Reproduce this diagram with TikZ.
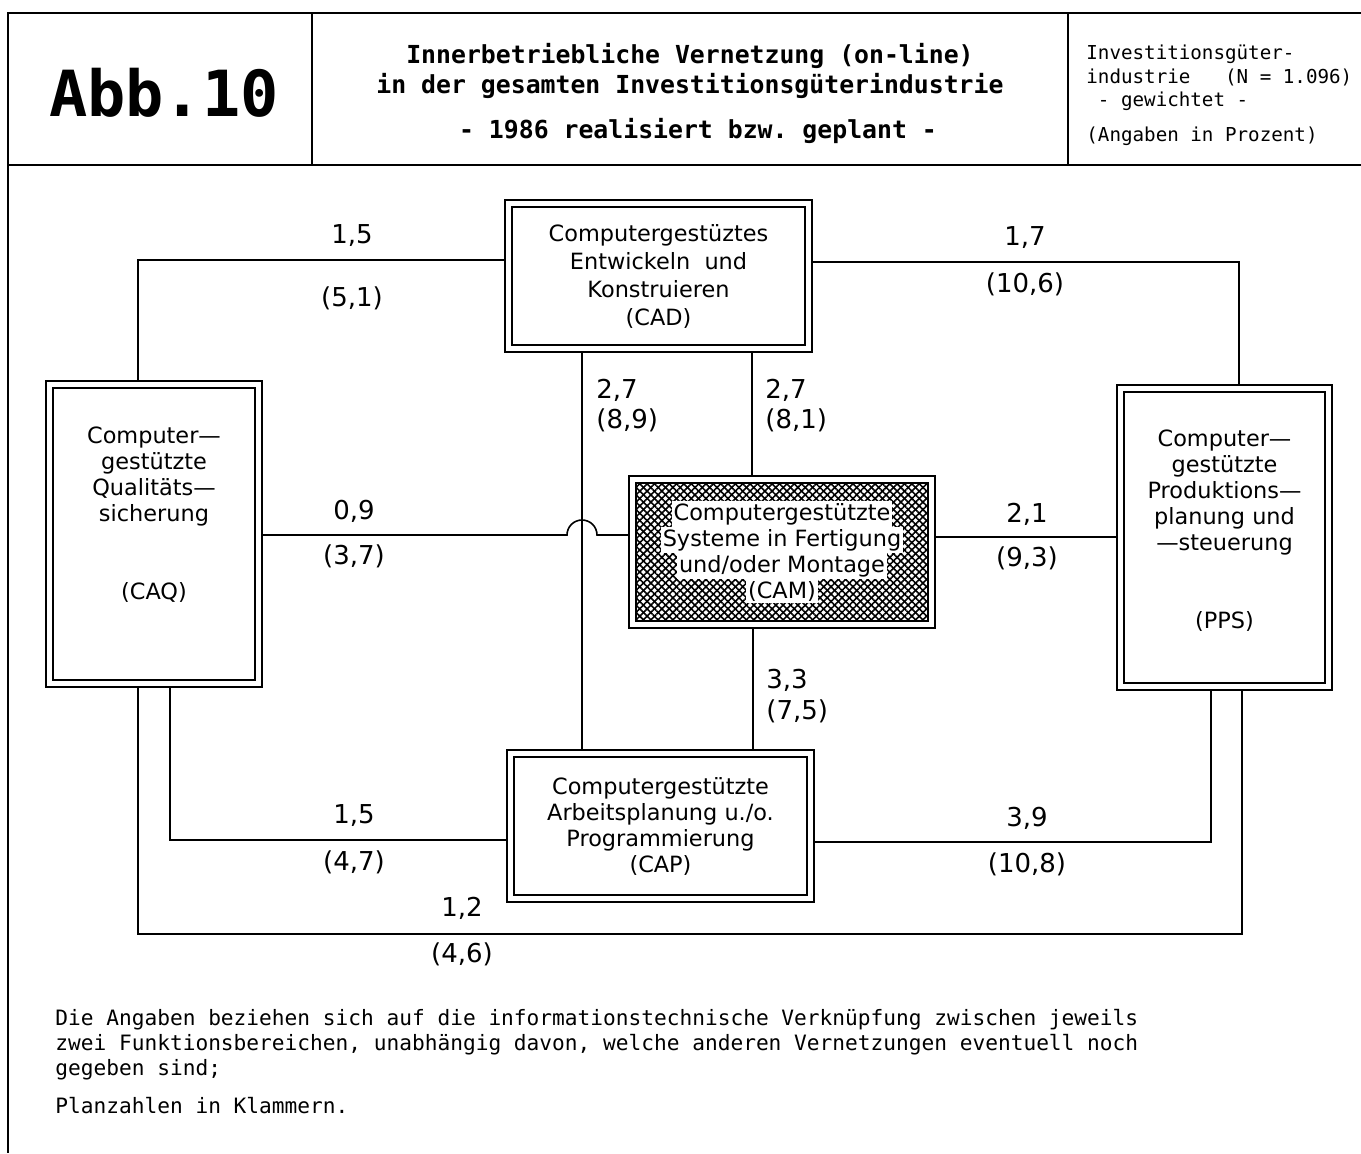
\documentclass[tikz,border=0pt]{standalone}
\usepackage{fontspec}
\setmainfont{DejaVu Sans}
\setmonofont{DejaVu Sans Mono}
\usetikzlibrary{calc}
\usetikzlibrary{positioning}
\usetikzlibrary{patterns.meta}

\newcommand{\wbox}[1]{{\setlength{\fboxsep}{1pt}\colorbox{white}{#1}}}
\newcommand{\camfont}{\fontsize{11.2}{13}\selectfont\lineskiplimit=-20pt}

\tikzset{
  dbox/.style = {draw, double, double distance=2.75pt, line width=0.75pt,
                 outer sep=2.1pt, inner sep=0pt},
  hatch/.style = {preaction={pattern={Lines[angle=45,distance=2.6pt,line width=0.8pt]}},
                  pattern={Lines[angle=-45,distance=2.6pt,line width=0.8pt]}},
  boxtext/.style = {align=center, inner sep=0pt, font=\fontsize{11.2}{13}\selectfont},
  num/.style = {inner sep=0pt, font=\fontsize{13}{15}\selectfont},
  conn/.style = {line width=0.8pt},
  frame/.style = {line width=1pt},
}

\begin{document}
\begin{tikzpicture}[x=0.5pt, y=-0.5pt]
  \useasboundingbox (0,0) rectangle (1361,1153);

  % frame and header
  \draw[frame] (1361,13) -- (8,13) -- (8,1153);
  \draw[frame] (8,165) -- (1361,165);
  \draw[frame] (312,13) -- (312,165);
  \draw[frame] (1068,13) -- (1068,165);

  \node[inner sep=0pt, font=\ttfamily\bfseries\fontsize{31.8}{36}\selectfont] (abb) at (164,93) {Abb.10};
  \node[inner sep=0pt, align=center, font=\ttfamily\bfseries\fontsize{12.4}{15}\selectfont] (title) at (690,71)
    {Innerbetriebliche Vernetzung (on-line)\\in der gesamten Investitionsgüterindustrie};
  \node[inner sep=0pt, font=\ttfamily\bfseries\fontsize{12.4}{15}\selectfont] (year) at (698,131)
    {- 1986 realisiert bzw. geplant -};
  \node[inner sep=0pt, align=left, anchor=north west, font=\ttfamily\fontsize{9.6}{11.75}\selectfont] (info) at (1086,45)
    {Investitionsgüter-\\industrie\ \ \ (N = 1.096)\\\ - gewichtet -\\[5.5pt](Angaben in Prozent)};

  % function areas
  \node[dbox, minimum width=150pt, minimum height=72.5pt] (cad) at (658.5,276) {};
  \node[dbox, minimum width=104.5pt, minimum height=149.5pt] (caq) at (154,534) {};
  \node[dbox, minimum width=104pt, minimum height=149pt] (pps) at (1224.5,537.5) {};
  \node[dbox, minimum width=150pt, minimum height=72.5pt] (cap) at (660.5,826) {};
  \node[dbox, hatch, minimum width=149.5pt, minimum height=72.5pt] (cam) at (782,552) {};

  \node[boxtext, font=\fontsize{11.2}{14}\selectfont] (cadtext) at (cad)
    {Computergestüztes\\Entwickeln\ \ und\\Konstruieren\\(CAD)};
  \node[boxtext] (caqtext) at (154,515)
    {Computer—\\gestützte\\Qualitäts—\\sicherung\\[26pt](CAQ)};
  \node[boxtext] (ppstext) at (1224.5,531)
    {Computer—\\gestützte\\Produktions—\\planung und\\—steuerung\\[26pt](PPS)};
  \node[boxtext] (captext) at (cap)
    {Computergestützte\\Arbeitsplanung u./o.\\Programmierung\\(CAP)};
  \node[boxtext, font=\camfont] (camtext) at (cam)
    {\wbox{Computergestützte}\\\wbox{Systeme in Fertigung}\\\wbox{und/oder Montage}\\\wbox{(CAM)}};

  % connectors
  \coordinate (hop) at (582,535);
  \draw[conn] (cad.west |- 0,260) -| (caq.north -| 138,0);
  \draw[conn] (cad.east |- 0,262) -| (pps.north -| 1239,0);
  \draw[conn] (cad.south -| hop) -- (cap.north -| hop);
  \draw[conn] (cad.south -| 752,0) -- (cam.north -| 752,0);
  \draw[conn] (caq.east |- hop) -- ([xshift=-7.5pt]hop)
    arc[start angle=180, end angle=0, radius=7.5pt] -- (cam.west |- hop);
  \draw[conn] (cam.east |- 0,537) -- (pps.west |- 0,537);
  \draw[conn] (cam.south -| 753,0) -- (cap.north -| 753,0);
  \draw[conn] (caq.south -| 170,0) |- (cap.west |- 0,840);
  \draw[conn] (cap.east |- 0,842) -| (pps.south -| 1211,0);
  \draw[conn] (caq.south -| 138,0) -- ++(0,246) -| (pps.south -| 1242,0);

  % shares
  \node[num] (cadcaq) at (352,236) {1,5};
  \node[num] (cadcaqplan) at (352,298) {(5,1)};
  \node[num] (cadpps) at (1025,238) {1,7};
  \node[num] (cadppsplan) at (1025,284) {(10,6)};
  \node[num, anchor=west] (cadcap) at (596,390) {2,7};
  \node[num, anchor=west] (cadcapplan) at (596,420) {(8,9)};
  \node[num, anchor=west] (cadcam) at (765,390) {2,7};
  \node[num, anchor=west] (cadcamplan) at (765,420) {(8,1)};
  \node[num] (caqcam) at (354,511) {0,9};
  \node[num] (caqcamplan) at (354,556) {(3,7)};
  \node[num] (campps) at (1027,514) {2,1};
  \node[num] (camppsplan) at (1027,558) {(9,3)};
  \node[num, anchor=west] (camcap) at (766,680) {3,3};
  \node[num, anchor=west] (camcapplan) at (766,711) {(7,5)};
  \node[num] (caqcap) at (354,816) {1,5};
  \node[num] (caqcapplan) at (354,862) {(4,7)};
  \node[num] (cappps) at (1027,818) {3,9};
  \node[num] (capppsplan) at (1027,864) {(10,8)};
  \node[num] (caqpps) at (462,908) {1,2};
  \node[num] (caqppsplan) at (462,954) {(4,6)};

  % note
  \node[inner sep=0pt, align=left, anchor=north west, font=\ttfamily\fontsize{10.58}{12.5}\selectfont] (note) at (55,1009)
    {Die Angaben beziehen sich auf die informationstechnische Verknüpfung zwischen jeweils\\
     zwei Funktionsbereichen, unabhängig davon, welche anderen Vernetzungen eventuell noch\\
     gegeben sind;\\[6.5pt]
     Planzahlen in Klammern.};
\end{tikzpicture}
\end{document}
